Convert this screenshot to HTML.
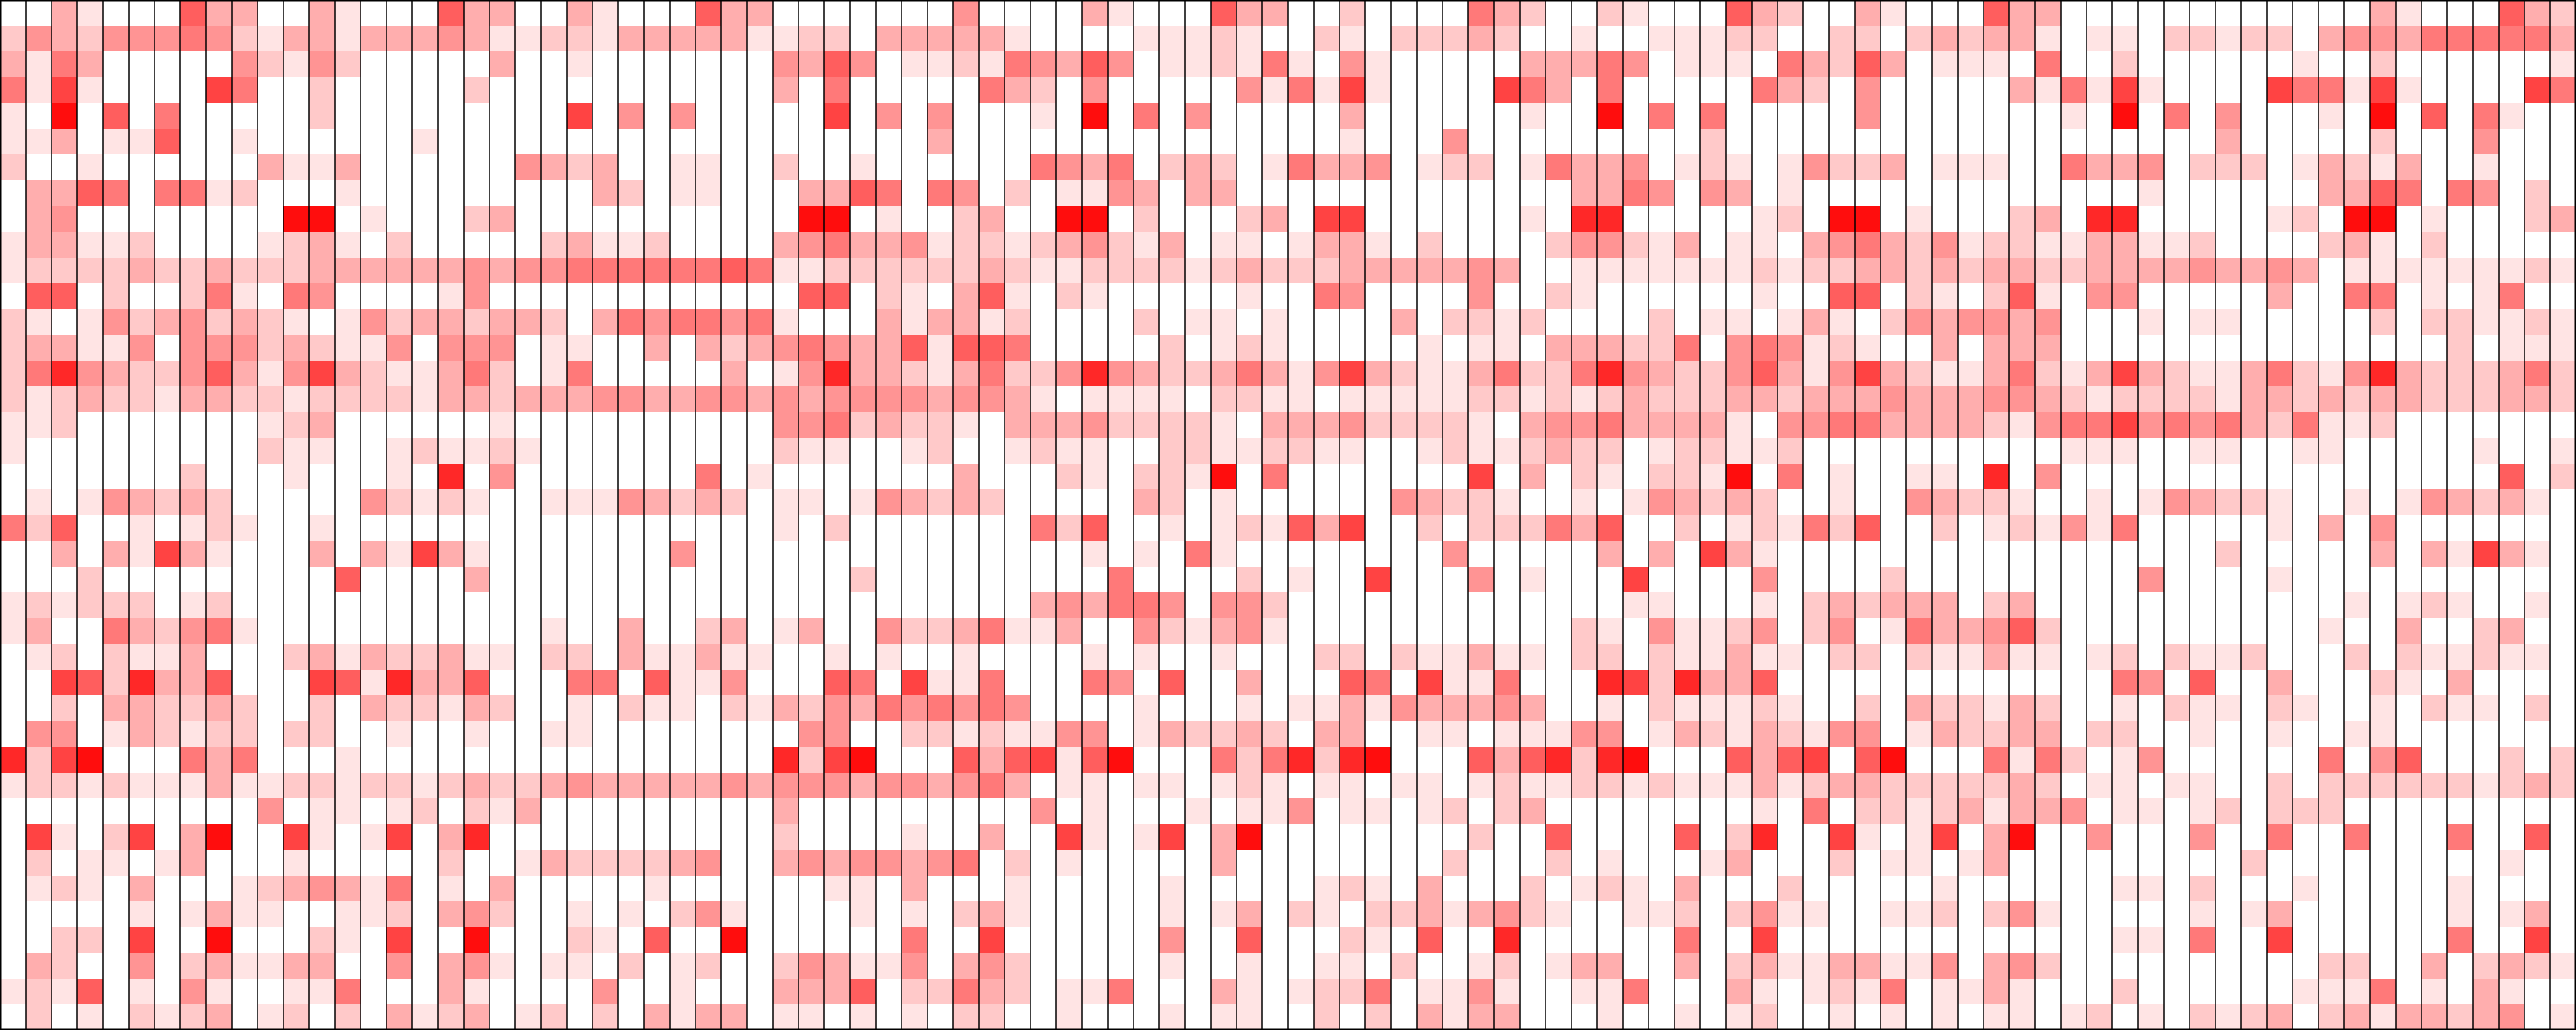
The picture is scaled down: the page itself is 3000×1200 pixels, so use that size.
<!DOCTYPE html>
<html>
<head>
<meta charset="utf-8">
<style>
  html, body { margin: 0; padding: 0; background: #fff; }
  svg { display: block; }
</style>
</head>
<body>
<svg id="chart" width="3000" height="1200" viewBox="0 0 3000 1200" xmlns="http://www.w3.org/2000/svg">
  <g id="cells"></g>
  <g id="gridlines"></g>
</svg>
<script>
// Row categories (40 rows) and column categories (100 columns)
const rowCategories = Array.from({length: 40}, (_, i) => "r" + i);
const colCategories = Array.from({length: 100}, (_, i) => "c" + i);
// Intensity levels 0..9 per cell, one string per row (100 digits each)
const valueRows = [
"003100063300310006330031000633000"+"000040000310006330020000532002100"+"0632003100063300000000000031000632",
"243244454213313334311221333331122"+"033333100001112100210222320010011"+"1220022023233101102212203443555553",
"315300000421420000030010000000436"+"401121543640112151041000003335401"+"1105326301110500200000010020000001",
"517100007500200000200000000000305"+"000005320400000415171000075305000"+"0053204000003151710000755171000075",
"109060500000200000000070404000007"+"040400010905040000030000001009050"+"5000004000000010905040001090605100",
"113011600100000010000000000000000"+"000300000000000000010004000000000"+"2000000000000000000030000020004000",
"200100000031130000004323001100200"+"100000054350232015334012201533401"+"2101422301110053340222013213001000",
"033650551200010000000003201100033"+"650540201143033000000000000033540"+"4301000000000000010000003365054020",
"034000000009901000230000000000099"+"010023009902000230770000001088000"+"0012099010002308800000120990100023",
"133112000012310200000231120000345"+"334122123421301101331020000244213"+"0110345324122113311200002310200000",
"122223223222333333434455555565112"+"222223211222212322233333430011111"+"1121223323233223333433430111111121",
"066020025105400001400000000000066"+"021036102100000100540000400210000"+"0010066021026104400000300550101500",
"210142342321014233233203545545100"+"031331200002011010000302212000020"+"1101310243443400010110000020221121",
"233114044423211404440110030323454"+"336166500000201210000010110333225"+"0454121003033300000000000000020111",
"258432246314732113520150000030148"+"332135224843223531473211352258432"+"2463147321135213732113521483222352",
"212322133221222213323334433443434"+"444344310111102211011111221212322"+"2332333433344321222213323233222332",
"112000000012300000010000000000445"+"232210333422221033342222103445333"+"3104455333321455745453251120000000",
"100000000021100121121000000000211"+"001200121100221122110012112322012"+"2112000000000011100110011000001001",
"000000020001000108040000000501000"+"000030002102219050000000703021022"+"1905010011080400000000000000000602",
"010143232000004212100111432320110"+"143232000003201000000432210010143"+"2320010043221001014322100101432310",
"526001012100100000000000000000102"+"000000052600101216370020222536002"+"0121526002012141500000103040000000",
"003031731000303173100000004000000"+"000000000101051000000004000003030"+"7310000000000000000020000030317310",
"000200000000060000300000000000000"+"200000000050000201007000401000700"+"0040000200000000040000100000000000",
"121222012000000000000000000000000"+"000000034355404420000000000000110"+"0010232333023000000000000101210010",
"130053245100000000000100300230130"+"042235113004213410000000000021041"+"1240240153346200000000001003002300",
"012021130002313223110220311311001"+"010010000101001000220211311022021"+"1311022021131101202112000202112110",
"007628336000761833600055061140006"+"507115000540600300065071150008728"+"3360000000000000540600300021030000",
"002033223200203221320010211021324"+"354545400001000101131433343001021"+"1121002032213200102110210010211020",
"044013212202200100100110000000044"+"002212114401322320330011011144013"+"2132144013223302200100100110000000",
"827900053500010000000000000000827"+"900063671690005258289000636828900"+"0636706900051520140000005046000202",
"122121113112212212322343333343444"+"344345301101101210110110121122121"+"1131233222223201101100202222221232",
"000000000040110120213000000000300"+"000000040100010114011012023000000"+"0010502212313340110120222000000000",
"071027039007101703800000000000200"+"001003007101703900000000200600006"+"0280071017039004000400500500050060",
"020110130001000002001322223400343"+"443450201000003000000002000201000"+"1300020110130000000002000000000100",
"012103000123431501030000010000001"+"103000100000100000121030002012103"+"0002000001000000110200010000010000",
"000001013110011203420010102410000"+"101023100000101302102231342100112"+"0241100112024100000101300000010130",
"002207009000210700900021060090000"+"005007000000400600021060080000005"+"0070000000000000110500700000050070",
"032004023113300403410110201200243"+"114034200000100100110200120133003"+"0231133114034200000000002200302321",
"121601041001150003100004001000333"+"602253201150003101225011410011500"+"0310121501131000200000011150103100",
"020102123012020312301202031330110"+"101022001000101100202031330001001"+"0120010101011012010212302313323401"
];
const maxLevel = 9.5;

const CELL_W = 30, CELL_H = 30;
function xScale(colIndex) { return colIndex * CELL_W; }
function yScale(rowIndex) { return rowIndex * CELL_H; }
function colorScale(v) {
  const t = Math.max(0, Math.min(1, v / maxLevel));
  const g = Math.round(255 * (1 - t));
  return "rgb(255," + g + "," + g + ")";
}

const NS = "http://www.w3.org/2000/svg";
const cellsG = document.getElementById("cells");
rowCategories.forEach((rName, r) => {
  const row = valueRows[r] || "";
  colCategories.forEach((cName, c) => {
    const v = parseInt(row.charAt(c) || "0", 10);
    if (v === 0) return;
    const rect = document.createElementNS(NS, "rect");
    rect.setAttribute("x", xScale(c));
    rect.setAttribute("y", yScale(r));
    rect.setAttribute("width", CELL_W);
    rect.setAttribute("height", CELL_H);
    rect.setAttribute("fill", colorScale(v));
    
    
    cellsG.appendChild(rect);
  });
});

const gridG = document.getElementById("gridlines");
for (let c = 0; c <= colCategories.length; c++) {
  const line = document.createElementNS(NS, "line");
  const x = Math.min(Math.max(xScale(c), 0.75), 3000 - 0.75);
  line.setAttribute("x1", x);
  line.setAttribute("x2", x);
  line.setAttribute("y1", 0);
  line.setAttribute("y2", 1200);
  line.setAttribute("stroke", "#000");
  line.setAttribute("stroke-width", "1.5");
  
  
  gridG.appendChild(line);
}
[0.75, 1199.25].forEach(y => {
  const line = document.createElementNS(NS, "line");
  line.setAttribute("x1", 0);
  line.setAttribute("x2", 3000);
  line.setAttribute("y1", y);
  line.setAttribute("y2", y);
  line.setAttribute("stroke", "#000");
  line.setAttribute("stroke-width", "1.5");
  
  
  gridG.appendChild(line);
});
</script>
</body>
</html>
